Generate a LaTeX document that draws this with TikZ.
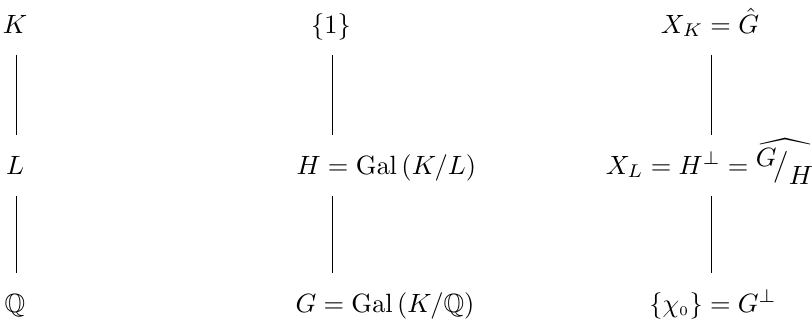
\documentclass[tikz,border=0pt]{standalone}
\usepackage{amsmath,amssymb}
\begin{document}
\begin{tikzpicture}[x=0.3786pt,y=-0.3786pt,
  lbl/.style={inner sep=0pt,text height=6.8pt,text depth=0pt},
  conn/.style={line width=0.4pt,shorten <=8.1pt,shorten >=7.9pt}]
\useasboundingbox (0,0) rectangle (812,325);
% column 1
\node[lbl,anchor=base] (K) at (15,33) {$K$};
\node[lbl,anchor=base] (L) at (15,174) {$L$};
\node[lbl,anchor=base] (Q) at (15,312) {$\mathbb{Q}$};
% column 2
\node[lbl,anchor=base] (one) at (331,33) {$\{1\}$};
\node[lbl,anchor=base west] (H) at (296,174) {$H=\mathrm{Gal}\,(K/L)$};
\node[lbl,anchor=base west] (G) at (295,312) {$G=\mathrm{Gal}\,(K/\mathbb{Q})$};
% column 3
\node[lbl,anchor=base] (XK) at (710,33) {$X_K=\hat{G}$};
\node[lbl,anchor=base] (XL) at (710,174) {$X_L=H^{\perp}=\widehat{{}^{\textstyle G}\!\big/_{\textstyle H}}$};
\node[lbl,anchor=base] (chi) at (713,312) {$\{\chi_{\scriptscriptstyle 0}\}=G^{\perp}$};
% connectors
\draw[conn] ([xshift=0.5]K.south) -- ([xshift=0.5]L.north);
\draw[conn] ([xshift=0.5]L.south) -- ([xshift=0.5]Q.north);
\draw[conn] ([xshift=0.5]one.south) -- ([xshift=0.5]H.north -| one.south);
\draw[conn] ([xshift=0.5]H.south -| one.south) -- ([xshift=0.5]G.north -| one.south);
\draw[conn] ([xshift=0.5]XK.south) -- ([xshift=0.5]XL.north -| XK.south);
\draw[conn] ([xshift=0.5]XL.south -| XK.south) -- ([xshift=0.5]chi.north -| XK.south);
\end{tikzpicture}
\end{document}
